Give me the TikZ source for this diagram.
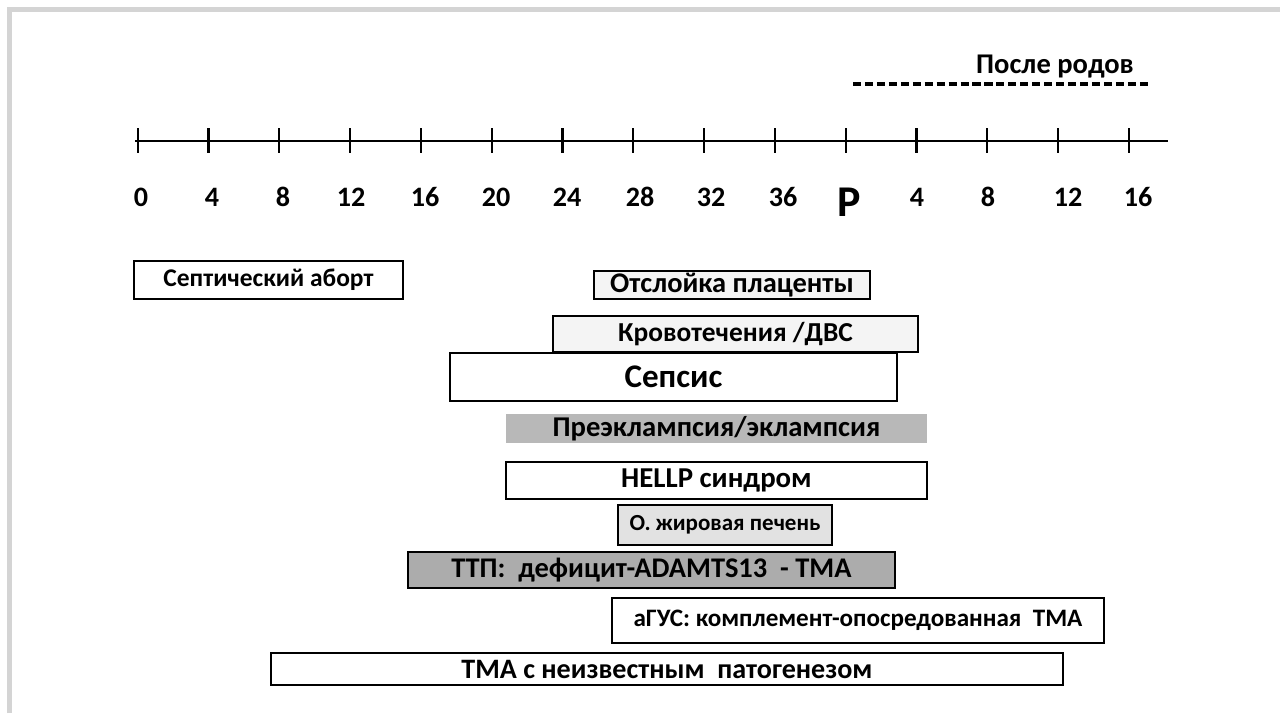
\documentclass[tikz,border=0pt]{standalone}
\usepackage{fontspec}
\setmainfont[Numbers=Lining]{Carlito}
\usetikzlibrary{positioning}

\definecolor{framegray}{RGB}{212,212,212}
\definecolor{palegray}{RGB}{244,244,244}
\definecolor{pregray}{RGB}{184,184,184}
\definecolor{livergray}{RGB}{226,226,226}
\definecolor{ttpgray}{RGB}{172,172,172}

\begin{document}
\begin{tikzpicture}[x=0.02cm,y=-0.02cm,
      bar/.style={draw=black,line width=1.6pt,inner sep=0pt},
      flat/.style={draw=none,inner sep=0pt},
      size/.style 2 args={minimum width=#1*0.02cm,minimum height=#2*0.02cm},
      fs/.style={font=\fontsize{#1}{#1}\selectfont\bfseries},
      ]
      \useasboundingbox (0,0) rectangle (1280,713);
      % frame
      \draw[framegray,line width=2.8pt] (9.5,713) -- (9.5,9.5) -- (1280,9.5);

      % time axis
      \coordinate (ax0) at (135,141);
      \coordinate (ax1) at (1168,141);
      \draw[line width=1.3pt] (ax0) -- (ax1);
      \foreach \lab/\lx [count=\i from 0] in {0/141,4/212,8/283,12/351,16/425,20/496,
          24/567,28/640,32/711,36/783,P/849,4/917,8/988,12/1068,16/1138}{
        \draw[line width=1.3pt] (137.7+70.8*\i,128) -- (137.7+70.8*\i,153);
        \ifnum\i=10
          \node[fs=25] (t\i) at (\lx,202) {\lab};
        \else
          \node[fs=16] (t\i) at (\lx,197) {\lab};
        \fi
      }

      % after delivery
      \node[fs=16.25] (post) at (1055,67) {После родов};
      \coordinate (pd0) at (853,84);
      \coordinate (pd1) at (1150,84);
      \draw[line width=1.9pt,dash pattern=on 4.6pt off 2.2pt] (pd0) -- (pd1);

      % conditions
      \node[bar,fill=white,size={269}{38},fs=14.5] (abort) at (268.5,280) {Септический аборт};
      \node[bar,fill=palegray,size={276}{28},fs=16.2] (abrupt) at (732,285) {Отслойка плаценты};
      \node[bar,fill=palegray,size={365}{36},fs=15.6] (bleed) at (735.5,334) {Кровотечения /ДВС};
      \node[bar,fill=white,size={447}{48},fs=18.8] (sepsis) at (673.5,377) {Сепсис};
      \node[flat,fill=pregray,size={421}{29},fs=16.3] (preecl) at (716.5,428.5) {Преэклампсия/эклампсия};
      \node[bar,fill=white,size={421}{37},fs=16.4] (hellp) at (716.5,480.5) {HELLP синдром};
      \node[bar,fill=livergray,size={214}{40},fs=13.1] (liver) at (725,525) {О. жировая печень};
      \node[bar,fill=ttpgray,size={487}{36},fs=16.2] (ttp) at (651.5,570) {ТТП:\ \ дефицит-ADAMTS13\ \ -\ ТМА};
      \node[bar,fill=white,size={492}{45},fs=14.3] (ahus) at (858,620.5) {аГУС: комплемент-опосредованная\ \ ТМА};
      \node[bar,fill=white,size={792}{32},fs=16] (tmaunk) at (667,669) {ТМА с неизвестным\ \ патогенезом};
\end{tikzpicture}
\end{document}
